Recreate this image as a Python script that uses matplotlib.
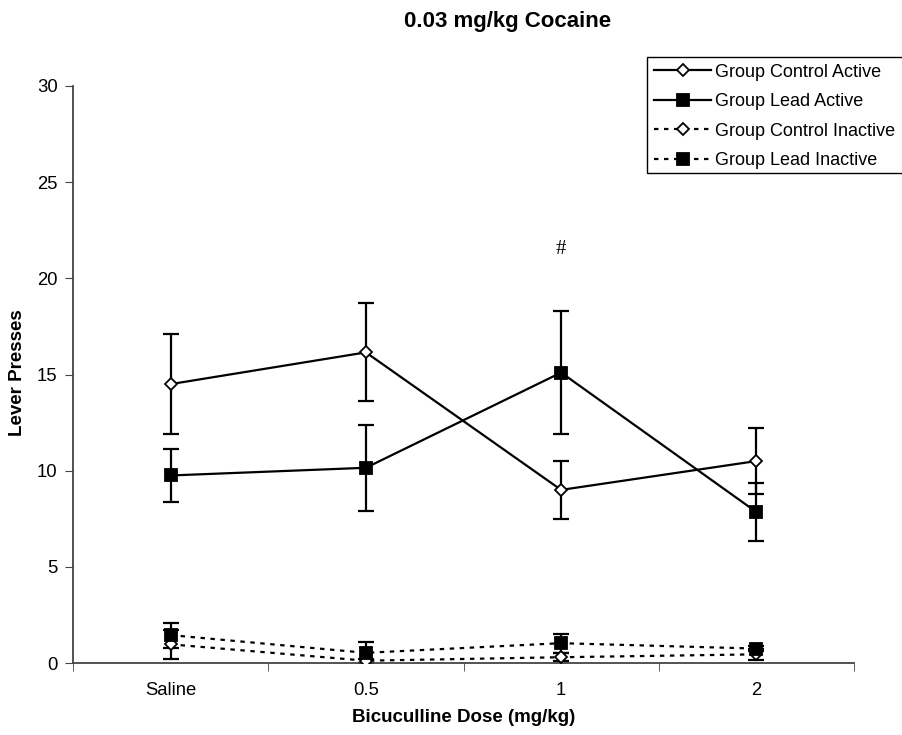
import numpy as np
import matplotlib.pyplot as plt
from matplotlib.patches import Rectangle

plt.rcParams['font.family'] = ['Liberation Sans', 'DejaVu Sans']

# Data
doses = ['Saline', '0.5', '1', '2']
control_active = [14.5, 16.15, 9.0, 10.5]
control_active_se = [2.6, 2.55, 1.5, 1.7]
lead_active = [9.75, 10.15, 15.1, 7.85]
lead_active_se = [1.4, 2.25, 3.2, 1.5]
control_inactive = [0.97, 0.12, 0.3, 0.45]
control_inactive_se = [0.75, 0.1, 0.2, 0.3]
lead_inactive = [1.45, 0.53, 1.03, 0.75]
lead_inactive_se = [0.65, 0.54, 0.5, 0.15]

x = np.arange(len(doses))
W, H = 902, 735

fig = plt.figure(figsize=(W / 100, H / 100), dpi=100)
ax = fig.add_axes([73 / W, 1 - 663 / H, (854 - 73) / W, (663 - 86) / H])

dots = (0, (2, 2.5))
series = [
    (control_active, control_active_se, 'D', 'white', '-', 'Group Control Active', 6.5),
    (lead_active, lead_active_se, 's', 'black', '-', 'Group Lead Active', 8),
    (control_inactive, control_inactive_se, 'D', 'white', dots, 'Group Control Inactive', 6.5),
    (lead_inactive, lead_inactive_se, 's', 'black', dots, 'Group Lead Inactive', 8),
]
for vals, se, mk, fc, ls, lab, ms in series:
    ax.errorbar(x, vals, yerr=se, fmt='none', ecolor='black', elinewidth=1.6,
                capsize=5.5, capthick=1.6, zorder=2)
    ax.plot(x, vals, color='black', linestyle=ls, linewidth=1.6, marker=mk,
            markersize=ms, markerfacecolor=fc, markeredgecolor='black',
            markeredgewidth=1.3, label=lab, zorder=3)

ax.set_xlim(-0.5, 3.5)
ax.set_ylim(0, 30)
ax.set_yticks(np.arange(0, 31, 5))
ax.set_xticks(x)
ax.set_xticklabels(doses)
ax.set_xticks(np.arange(-0.5, 4, 1), minor=True)
ax.tick_params(axis='x', which='major', length=0, pad=14, labelsize=13.3)
ax.tick_params(axis='x', which='minor', length=6, direction='out', color='#444444')
ax.tick_params(axis='y', length=6, direction='out', labelsize=13.3, pad=5, color='#444444')
for side in ['top', 'right']:
    ax.spines[side].set_visible(False)
for side in ['left', 'bottom']:
    ax.spines[side].set_color('#444444')
    ax.spines[side].set_linewidth(1.3)

ax.text(2, 21.5, '#', ha='center', va='center', fontsize=15,
        family=['Liberation Serif', 'DejaVu Serif'])

# axis titles and chart title, placed in figure pixels
fig.text(18 / W, 1 - 373 / H, 'Lever Presses', rotation=90, ha='center', va='center',
         fontsize=13.5, fontweight='bold')
fig.text(464 / W, 1 - 718 / H, 'Bicuculline Dose (mg/kg)', ha='center', va='center',
         fontsize=13.5, fontweight='bold')
fig.text(508 / W, 1 - 21 / H, '0.03 mg/kg Cocaine', ha='center', va='center',
         fontsize=16, fontweight='bold')

# legend box runs past the right edge of the picture
fig.patches.append(Rectangle((647 / W, 1 - 173 / H), 300 / W, 116 / H,
                             transform=fig.transFigure, facecolor='white',
                             edgecolor='black', linewidth=1.0, zorder=5))
leg = fig.legend(loc='upper left', bbox_to_anchor=(650 / W, 1 - 60 / H), fontsize=13,
                 frameon=False, handlelength=3.2, handletextpad=0.2,
                 borderpad=0.2, labelspacing=0.69, borderaxespad=0)
leg.set_zorder(6)

fig.savefig('out.png', dpi=100)
